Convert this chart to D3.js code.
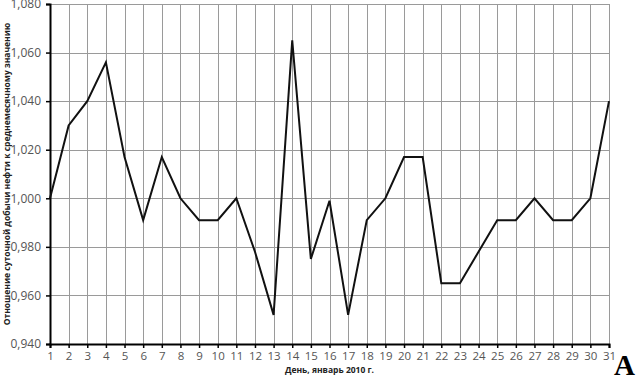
<!DOCTYPE html>
<html>
<head>
<meta charset="utf-8">
<script src="https://cdn.jsdelivr.net/npm/d3@7"></script>
<style>
  body { margin: 0; background: #fff; }
  svg { display: block; }
</style>
</head>
<body>
<script>
// Data
var days = d3.range(1, 32);
var ratio = [1.000, 1.030, 1.040, 1.056, 1.017, 0.991, 1.017, 1.000, 0.991, 0.991,
             1.000, 0.978, 0.952, 1.065, 0.975, 0.999, 0.952, 0.991, 1.000, 1.017,
             1.017, 0.965, 0.965, 0.978, 0.991, 0.991, 1.000, 0.991, 0.991, 1.000,
             1.040];
var yTicks = [0.94, 0.96, 0.98, 1.00, 1.02, 1.04, 1.06, 1.08];
var xTitle = "День, январь 2010 г.";
var yTitle = "Отношение суточной добычи нефти к среднемесячному значению";

var width = 636, height = 376;
var margin = { top: 4, right: 27, bottom: 32, left: 50 };
var w = width - margin.left - margin.right,
    h = height - margin.top - margin.bottom;

var svg = d3.select("body").append("svg")
    .attr("width", width)
    .attr("height", height);

var g = svg.append("g")
    .attr("transform", "translate(" + margin.left + "," + margin.top + ")");

var x = d3.scaleLinear().domain([1, 31]).range([0, w]);
var y = d3.scaleLinear().domain([0.94, 1.08]).range([h, 0]);

// grid
g.append("g").selectAll("line").data(yTicks).join("line")
    .attr("x1", 0).attr("x2", w)
    .attr("y1", function (d) { return Math.round(y(d)) + 0.5; })
    .attr("y2", function (d) { return Math.round(y(d)) + 0.5; })
    .attr("stroke", "#9a9a9a").attr("stroke-width", 1);

g.append("g").selectAll("line").data(days).join("line")
    .attr("x1", function (d) { return Math.round(x(d)) + 0.5; })
    .attr("x2", function (d) { return Math.round(x(d)) + 0.5; })
    .attr("y1", 0).attr("y2", h)
    .attr("stroke", "#9a9a9a").attr("stroke-width", 1);

// axes
var fmt = function (d) { return d3.format(".3f")(d).replace(".", ","); };

var yAxis = g.append("g")
    .call(d3.axisLeft(y).tickValues(yTicks).tickFormat(fmt).tickSize(4).tickPadding(5));
var xAxis = g.append("g")
    .attr("transform", "translate(0," + h + ")")
    .call(d3.axisBottom(x).tickValues(days).tickFormat(d3.format("d")).tickSize(4).tickPadding(4));

[xAxis, yAxis].forEach(function (a) {
  a.select(".domain").attr("stroke", "#000").attr("stroke-width", 2);
  a.selectAll(".tick line").attr("stroke", "#000").attr("stroke-width", 1.5);
  a.selectAll("text")
      .attr("fill", "#555")
      .style("font-family", "'Open Sans', sans-serif")
      .style("font-size", "12px");
});
xAxis.selectAll("text").style("font-size", "11.5px");

// the line
var line = d3.line()
    .x(function (d, i) { return x(days[i]); })
    .y(function (d) { return y(d); });

g.append("path")
    .datum(ratio)
    .attr("fill", "none")
    .attr("stroke", "#111")
    .attr("stroke-width", 2)
    .attr("stroke-linejoin", "miter")
    .attr("d", line);

// titles
svg.append("text")
    .attr("x", margin.left + w / 2)
    .attr("y", 373)
    .attr("text-anchor", "middle")
    .style("font-family", "'Open Sans', sans-serif")
    .style("font-size", "8.5px")
    .style("font-weight", "bold")
    .attr("fill", "#222")
    .text(xTitle);

svg.append("text")
    .attr("transform", "translate(10," + (margin.top + h / 2) + ") rotate(-90)")
    .attr("text-anchor", "middle")
    .style("font-family", "'Open Sans', sans-serif")
    .style("font-size", "8.5px")
    .style("font-weight", "bold")
    .attr("fill", "#222")
    .text(yTitle);

// panel letter
svg.append("text")
    .attr("x", 635)
    .attr("y", 375)
    .attr("text-anchor", "end")
    .style("font-family", "'Liberation Serif', serif")
    .style("font-size", "29px")
    .style("font-weight", "bold")
    .text("A");
</script>
</body>
</html>
